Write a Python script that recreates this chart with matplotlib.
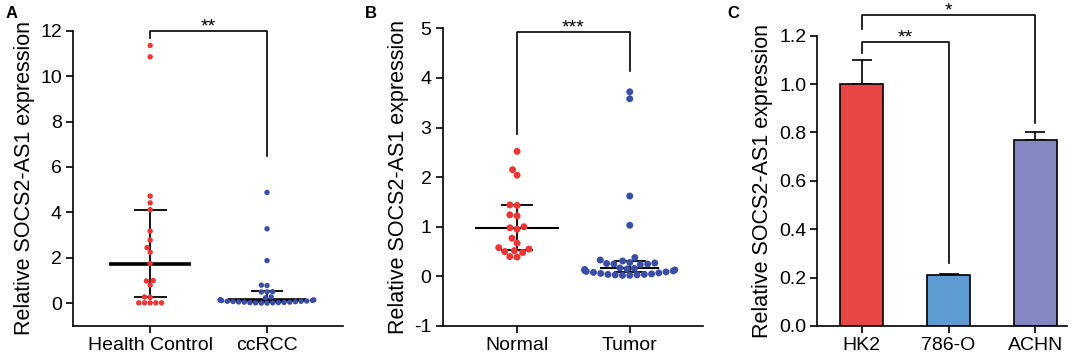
import numpy as np
import pandas as pd
import matplotlib
matplotlib.use("Agg")
import matplotlib.pyplot as plt
import seaborn as sns

plt.rcParams['font.family'] = ['Liberation Sans', 'DejaVu Sans']
plt.rcParams['axes.unicode_minus'] = False

# ---------------- data ----------------
# Panel A
a_categories = ["Health Control", "ccRCC"]
a_control = [11.35, 10.85, 4.72, 4.42, 4.12, 3.18, 2.78, 2.45, 2.25, 1.75,
             1.0, 0.98, 0.80, 0.28, 0.26, 0.02, 0.02, 0.02, 0.02, 0.02]
a_ccrcc = [4.88, 3.28, 1.88, 0.78, 0.80, 0.51, 0.50, 0.50, 0.28, 0.24,
           0.16, 0.15, 0.14, 0.13, 0.12, 0.10, 0.09, 0.08, 0.06, 0.05,
           0.04, 0.03, 0.02, 0.01, 0.01, 0.02, 0.03, 0.05, 0.07, 0.09]
a_median = [1.75, 0.15]
a_q1 = [0.28, 0.05]
a_q3 = [4.12, 0.52]
a_sig = "**"

# Panel B
b_categories = ["Normal", "Tumor"]
b_normal = [2.52, 2.15, 2.04, 1.44, 1.43, 1.24, 1.22, 1.0, 0.98, 0.95,
            0.77, 0.67, 0.58, 0.55, 0.52, 0.50, 0.48, 0.40, 0.39]
b_tumor = [3.72, 3.58, 1.62, 1.03, 0.38, 0.33, 0.31, 0.28, 0.27, 0.26,
           0.25, 0.25, 0.24, 0.17, 0.16, 0.15, 0.14, 0.13, 0.12, 0.11,
           0.10, 0.09, 0.08, 0.07, 0.06, 0.05, 0.04, 0.03, 0.02, 0.02,
           0.03, 0.04]
b_median = [0.97, 0.17]
b_q1 = [0.53, 0.08]
b_q3 = [1.43, 0.31]
b_sig = "***"

# Panel C
c_categories = ["HK2", "786-O", "ACHN"]
c_values = [1.0, 0.21, 0.77]
c_errors = [0.10, 0.005, 0.03]
c_sig = ["**", "*"]

RED = "#EC3535"
BLUE = "#3B4EA6"
BAR_COLORS = ["#E84545", "#5F9BD3", "#8487C2"]

TICK_FS = 14
LABEL_FS = 15.5
STAR_FS = 14
YLABEL = "Relative SOCS2-AS1 expression"

W, H = 1084, 359
fig = plt.figure(figsize=(W / 100, H / 100), dpi=100)


def px_axes(left, right, top, bottom):
    return fig.add_axes([left / W, 1 - bottom / H, (right - left) / W, (bottom - top) / H])


def style(ax):
    for s in ["top", "right"]:
        ax.spines[s].set_visible(False)
    for s in ["left", "bottom"]:
        ax.spines[s].set_linewidth(1.2)
    ax.tick_params(axis="both", direction="out", length=5, width=1.2,
                   labelsize=TICK_FS, pad=3)
    ax.set_ylabel(YLABEL, fontsize=LABEL_FS, labelpad=4)
    ax.set_xlabel("")


def star(ax, x, y, s):
    ax.annotate(s, xy=(x, y), xytext=(0, -3.2), textcoords="offset points",
                ha="center", va="bottom", fontsize=STAR_FS,
                annotation_clip=False)


def dot_panel(ax, cats, g1, g2, med, q1, q3, size, med_lw, med_hw, sig,
              ylim, yticks, bracket):
    df = pd.DataFrame({"group": [cats[0]] * len(g1) + [cats[1]] * len(g2),
                       "value": list(g1) + list(g2)})
    sns.swarmplot(data=df, x="group", y="value", order=cats, hue="group",
                  hue_order=cats, palette=[RED, BLUE], size=size, ax=ax,
                  legend=False, linewidth=0, zorder=3)
    for i in range(2):
        ax.hlines(med[i], i - med_hw[i], i + med_hw[i], color="black",
                  lw=med_lw, zorder=2)
        ax.vlines(i, q1[i], q3[i], color="black", lw=1.3, zorder=2)
        ax.hlines([q1[i], q3[i]], i - 0.14, i + 0.14, color="black", lw=1.3, zorder=2)
    ax.set_ylim(*ylim)
    ax.set_yticks(yticks)
    ax.set_xlim(-0.66, 1.65)
    style(ax)
    top, l_end, r_end = bracket
    ax.plot([0, 0, 1, 1], [l_end, top, top, r_end], color="black", lw=1.2,
            clip_on=False, zorder=4)
    star(ax, 0.5, top, sig)


# Panel A
axA = px_axes(73, 343, 30.7, 326)
dot_panel(axA, a_categories, a_control, a_ccrcc, a_median, a_q1, a_q3,
          size=3.9, med_lw=2.6, med_hw=[0.35, 0.33], sig=a_sig,
          ylim=(-1, 12), yticks=[0, 2, 4, 6, 8, 10, 12],
          bracket=(12.0, 11.7, 6.5))

# Panel B
axB = px_axes(442.7, 703, 28.3, 326)
dot_panel(axB, b_categories, b_normal, b_tumor, b_median, b_q1, b_q3,
          size=5.0, med_lw=1.5, med_hw=[0.37, 0.26], sig=b_sig,
          ylim=(-1, 5), yticks=[-1, 0, 1, 2, 3, 4, 5],
          bracket=(4.93, 2.86, 4.14))

# Panel C
axC = px_axes(817.3, 1066.7, 35.7, 326)
xc = np.arange(len(c_categories))
axC.bar(xc, c_values, width=0.5, color=BAR_COLORS, edgecolor="black",
        linewidth=1.2, zorder=2)
axC.errorbar(xc, c_values, yerr=[np.zeros(len(c_values)), c_errors], fmt="none",
             ecolor="black", elinewidth=1.2, capsize=7.5, capthick=1.2, zorder=1)
axC.set_xticks(xc)
axC.set_xticklabels(c_categories)
axC.set_ylim(0, 1.2)
axC.set_yticks([0.0, 0.2, 0.4, 0.6, 0.8, 1.0, 1.2])
axC.set_yticklabels(["0.0", "0.2", "0.4", "0.6", "0.8", "1.0", "1.2"])
axC.set_xlim(-0.51, 2.36)
style(axC)
# brackets
axC.plot([0, 0, 1, 1], [1.127, 1.175, 1.175, 0.26], color="black", lw=1.2, clip_on=False)
star(axC, 0.5, 1.175, c_sig[0])
axC.plot([0, 0, 2, 2], [1.228, 1.286, 1.286, 0.84], color="black", lw=1.2, clip_on=False)
star(axC, 1.0, 1.286, c_sig[1])

# panel letters
for lab, xp in [("A", 6), ("B", 365), ("C", 727)]:
    fig.text(xp / W, 1 - 6 / H, lab, fontsize=12, fontweight="bold",
             ha="left", va="top")

fig.savefig("out.png", dpi=100)
